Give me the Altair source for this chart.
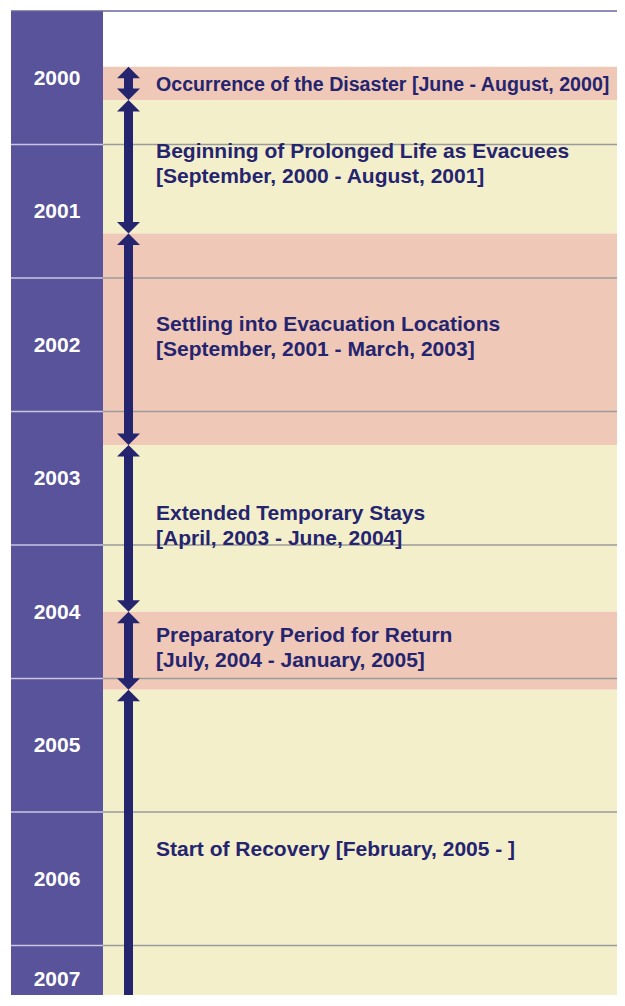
import altair as alt
import pandas as pd

# ---------------- data ----------------
years = [2000, 2001, 2002, 2003, 2004, 2005, 2006, 2007]
year_row_end = [2001, 2002, 2003, 2004, 2005, 2006, 2007, 2007.5]

period_titles = [
    "Occurrence of the Disaster [June - August, 2000]",
    "Beginning of Prolonged Life as Evacuees",
    "Settling into Evacuation Locations",
    "Extended Temporary Stays",
    "Preparatory Period for Return",
    "Start of Recovery [February, 2005 - ]",
]
period_ranges = [
    "",
    "[September, 2000 - August, 2001]",
    "[September, 2001 - March, 2003]",
    "[April, 2003 - June, 2004]",
    "[July, 2004 - January, 2005]",
    "",
]
period_start_year = [2000, 2000, 2001, 2003, 2004, 2005]
period_start_month = [6, 9, 9, 4, 7, 2]
period_end_year = [2000, 2001, 2003, 2004, 2005, 2007]
period_end_month = [8, 8, 3, 6, 1, 6]   # last period is open-ended (runs past the view)
period_shade = ["pink", "cream", "pink", "cream", "pink", "cream"]

# ---------------- styling ----------------
PURPLE = "#58539a"
PINK = "#f0c8b7"
CREAM = "#f4efcb"
NAVY = "#24246f"
GRID = "#9b9b9b"
GRID_COL = "#c9c6e2"
FONT = "Liberation Sans"

W, H = 606, 984
COL_W = 92
ARROW_X = 117.5
TEXT_X = 145
PX_PER_YEAR = 133.5
Y_MAX = 2000 + H / PX_PER_YEAR

# ---------------- tables ----------------
periods = pd.DataFrame({
    "idx": list(range(len(period_titles))),
    "title": period_titles,
    "range": period_ranges,
    "start": [y + (m - 1) / 12 for y, m in zip(period_start_year, period_start_month)],
    "end": [y + m / 12 for y, m in zip(period_end_year, period_end_month)],
    "shade": period_shade,
})
periods["label"] = [t if r == "" else t + "\n" + r for t, r in zip(periods["title"], periods["range"])]
periods["mid"] = (periods["start"] + periods["end"]) / 2

year_df = pd.DataFrame({"year": years, "yend": year_row_end})
year_df["mid"] = (year_df["year"] + year_df["yend"]) / 2
year_df["label"] = year_df["year"].astype(str)

grid_df = pd.DataFrame({"y": years[1:]})
top_df = pd.DataFrame({"y": [years[0]]})

yscale = alt.Scale(domain=[2000, Y_MAX], reverse=True, nice=False, zero=False)
ynoaxis = dict(scale=yscale, axis=None)

column = alt.Chart(top_df).mark_rect(color=PURPLE).encode(
    x=alt.value(0), x2=alt.value(COL_W),
    y=alt.value(0), y2=alt.value(H),
)

bands = alt.Chart(periods).mark_rect(clip=True).encode(
    x=alt.value(COL_W), x2=alt.value(W),
    y=alt.Y("start:Q", **ynoaxis), y2="end:Q",
    color=alt.Color("shade:N", scale=alt.Scale(domain=["pink", "cream"], range=[PINK, CREAM]), legend=None),
)

grid_col = alt.Chart(grid_df).mark_rule(color=GRID_COL, strokeWidth=1.3).encode(
    x=alt.value(0), x2=alt.value(COL_W), y=alt.Y("y:Q", **ynoaxis)
)
grid_plot = alt.Chart(grid_df).mark_rule(color=GRID, strokeWidth=1.3).encode(
    x=alt.value(COL_W), x2=alt.value(W), y=alt.Y("y:Q", **ynoaxis)
)
top_line = alt.Chart(top_df).mark_rule(color="#6a66a0", strokeWidth=1.5).encode(
    x=alt.value(0), x2=alt.value(W), y=alt.Y("y:Q", **ynoaxis)
)

shaft = alt.Chart(periods).mark_rule(color=NAVY, strokeWidth=9, yOffset=8, y2Offset=-8, clip=True).encode(
    x=alt.value(ARROW_X), y=alt.Y("start:Q", **ynoaxis), y2="end:Q"
)
UP = "M0,0 L1,1 L-1,1 Z"
DOWN = "M0,0 L1,-1 L-1,-1 Z"
head_up = alt.Chart(periods).mark_point(shape=UP, size=529, filled=True, opacity=1, color=NAVY,
                                        strokeWidth=0, clip=True).encode(
    x=alt.value(ARROW_X), y=alt.Y("start:Q", **ynoaxis)
)
head_down = alt.Chart(periods).mark_point(shape=DOWN, size=529, filled=True, opacity=1, color=NAVY,
                                          strokeWidth=0, clip=True).encode(
    x=alt.value(ARROW_X), y=alt.Y("end:Q", **ynoaxis)
)

text_style = dict(align="left", baseline="middle", font=FONT, fontWeight="bold",
                  lineBreak="\n", lineHeight=25, color=NAVY, clip=True)
text_enc = dict(x=alt.value(TEXT_X), y=alt.Y("mid:Q", **ynoaxis), text="label:N")
labels_first = alt.Chart(periods).transform_filter("datum.idx == 0").mark_text(
    fontSize=19.6, dy=2, **text_style
).encode(**text_enc)
labels_single = alt.Chart(periods).transform_filter("datum.idx > 0 && datum.range == ''").mark_text(
    fontSize=21, dy=-1, **text_style
).encode(**text_enc)
labels_multi = alt.Chart(periods).transform_filter("datum.range != ''").mark_text(
    fontSize=21, dy=-14.5, **text_style
).encode(**text_enc)

year_labels = alt.Chart(year_df).mark_text(
    align="center", baseline="middle", font=FONT, fontSize=21, fontWeight="bold", color="white",
    dy=1, clip=True,
).encode(x=alt.value(COL_W / 2), y=alt.Y("mid:Q", **ynoaxis), text="label:N")

chart = alt.layer(
    column, bands, grid_col, grid_plot, top_line, shaft, head_up, head_down,
    labels_first, labels_single, labels_multi, year_labels
).properties(
    width=W, height=H, padding={"left": 3, "top": 3, "right": 0, "bottom": 0}, background="white",
    autosize=alt.AutoSizeParams(type="none"),
).configure_view(strokeWidth=0)

chart.save("out.html", embed_options={"renderer": "svg", "actions": False})
